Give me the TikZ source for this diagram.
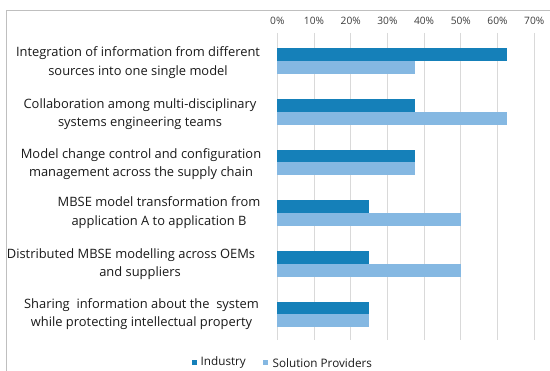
\documentclass[tikz,border=0pt]{standalone}
\usepackage{fontspec}
\setmainfont{Open Sans}
\definecolor{ind}{HTML}{1580B9}
\definecolor{sol}{HTML}{85B8E2}
\definecolor{grid}{HTML}{D9D9D9}
\definecolor{frame}{HTML}{BFBFBF}
\definecolor{txt}{HTML}{1A1A1A}
\begin{document}
\begin{tikzpicture}[x=1pt,y=-1pt,
  catlabel/.style={align=center,text=txt,font=\fontsize{12.9}{18.5}\selectfont,inner sep=0pt},
  ticklabel/.style={text=txt!85,font=\fontsize{10.2}{12}\selectfont,inner sep=0pt},
  legtext/.style={text=txt,font=\fontsize{11.7}{13}\selectfont,inner sep=0pt,anchor=west},
  gridline/.style={draw=grid,line width=0.8pt},
  indbar/.style={fill=ind,draw=none},
  solbar/.style={fill=sol,draw=none}]
\useasboundingbox (0,0) rectangle (550,371);
\fill[white] (0,0) rectangle (550,371);
% frame
\draw[frame,line width=1.2pt] (6.5,371) -- (6.5,10.5) -- (550,10.5);
% grid and ticks
\foreach \k in {0,...,7}{
  \pgfmathsetmacro{\xx}{277.3+36.7*\k}
  \draw[gridline] (\xx,33) -- (\xx,340);
  \node[ticklabel] (t\k) at (\xx,20.7) {\pgfmathparse{int(10*\k)}\pgfmathresult\%};
}
% bars: scale 3.67 px per percent
\def\sc{3.67}
\foreach \k/\a/\b in {0/62.5/37.5,1/37.5/62.5,2/37.5/37.5,3/25/50,4/25/50,5/25/25}{
  \pgfmathsetmacro{\yt}{48.3+50.7*\k}
  \pgfmathsetmacro{\ym}{\yt+12.7}
  \pgfmathsetmacro{\yb}{\yt+25.7}
  \pgfmathsetmacro{\xa}{277.3+\sc*\a}
  \pgfmathsetmacro{\xb}{277.3+\sc*\b}
  \fill[indbar] (277.3,\yt) rectangle (\xa,\ym);
  \fill[solbar] (277.3,\ym) rectangle (\xb,\yb);
}
% category labels
\node[catlabel] (c1) at (138,62.5) {Integration of information from different\\sources into one single model};
\node[catlabel] (c2) at (140,114) {Collaboration among multi-disciplinary\\systems engineering teams};
\node[catlabel] (c3) at (141,164) {Model change control and configuration\\management across the supply chain};
\node[catlabel] (c4) at (159,212.5) {MBSE model transformation from\\application A to application B};
\node[catlabel] (c5) at (131,264) {Distributed MBSE modelling across OEMs\\\hspace*{18pt}and suppliers};
\node[catlabel] (c6) at (141.5,314) {Sharing\ \ information about the\ \ system\\while protecting intellectual property};
% legend
\fill[ind] (191.5,360) rectangle (196.5,365);
\node[legtext] (l1) at (200.5,362.7) {Industry};
\fill[sol] (263.3,360) rectangle (268.3,365);
\node[legtext] (l2) at (272.5,362.7) {Solution Providers};
\end{tikzpicture}
\end{document}
